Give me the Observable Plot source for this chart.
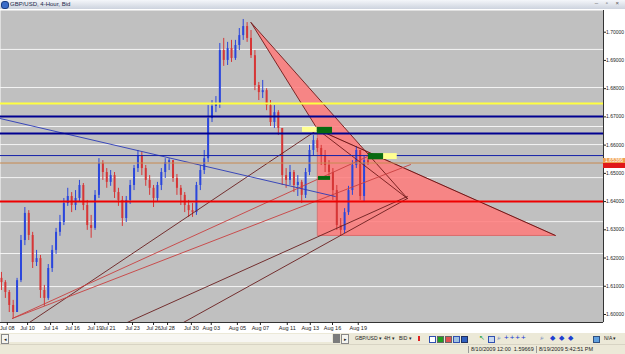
<!DOCTYPE html>
<html><head><meta charset="utf-8">
<script src="https://cdn.jsdelivr.net/npm/d3@7"></script>
<script src="https://cdn.jsdelivr.net/npm/@observablehq/plot@0.6"></script>
<style>
body{margin:0;width:625px;height:354px;overflow:hidden;background:#fff;font-family:"Liberation Sans",Arial,sans-serif;position:relative}
#title{height:9px;border-bottom:1px solid #fff;background:linear-gradient(#f4f6fa,#cdd3de);font-size:6px;line-height:9px;position:relative;color:#1a2a4a}
#title .ico{position:absolute;left:1px;top:1px;width:6px;height:6px;border-radius:3px;background:#3a6cc8;border:0.5px solid #1b3d80}
#title .t{position:absolute;left:10px;top:0}
#title .wb{position:absolute;right:3px;top:-1px;color:#555;font-size:6px;letter-spacing:3px}
#chart{height:323px}
#toolbar{position:absolute;left:0;top:333px;width:625px;height:11px;background:#ece9d8;font-size:5px;color:#222}
#status{position:absolute;left:0;top:344px;width:625px;height:10px;background:#ece9d8;font-size:5.5px;color:#222;border-top:1px solid #d8d4c4}
.a{position:absolute;white-space:nowrap}
.btn{border:0.5px solid #888;background:#f4f4f0;width:6px;height:8px;top:1px;font-size:5px;line-height:8px;text-align:center}
.ic{top:3px;width:5px;height:5px}
.fld{top:1px;height:7px;line-height:7px;border-left:0.5px solid #999;padding-left:2px}
.tag{position:absolute;left:603px;width:22px;font-size:5px;line-height:5px;color:#fff;text-align:center}
</style></head><body>
<div id="title"><span class="ico"></span><span class="t">GBP/USD, 4-Hour, Bid</span><span class="wb">– ▫ ×</span></div>
<div id="chart"></div>
<div id="toolbar">
 <span class="a btn" style="left:1px">◂</span>
 <span class="a" style="left:9px;top:1px;width:323px;height:8px;background:#f7f6f2"></span>
 <span class="a" style="left:333px;top:1px;width:7px;height:9px;background:#7c7c7c"></span>
 <span class="a btn" style="left:341px">▸</span>
 <span class="a" style="left:355px;top:2px">GBP/USD ▾</span>
 <span class="a" style="left:384px;top:2px">4H ▾</span>
 <span class="a" style="left:399px;top:2px">BID ▾</span>
 <span class="a ic" style="left:418px;width:2px;background:#e02020"></span>
 <span class="a ic" style="left:429px;background:#fff;border:0.5px solid #3050b0"></span>
 <span class="a ic" style="left:437px;background:#20a020;border:0.5px solid #666"></span>
 <span class="a ic" style="left:445px;background:#e05050;border:0.5px solid #666"></span>
 <span class="a ic" style="left:453px;background:#9fc0e0;border:0.5px solid #3050b0"></span>
 <span class="a ic" style="left:461px;background:#3060c0;border:0.5px solid #203060"></span>
 <span class="a" style="left:479px;top:1px;color:#20a040;font-size:7px">↖</span>
 <span class="a ic" style="left:488px;background:#c8d8f0;border:0.5px solid #3050b0"></span>
 <span class="a" style="left:497px;top:1px;color:#3050b0;font-size:7px">⌕</span>
 <span class="a" style="left:504px;top:0px;color:#2040d0;font-size:8px;letter-spacing:1px">++++</span>
 <span class="a" style="left:540px;top:1px;color:#3050b0;font-size:7px">⌕</span>
 <span class="a" style="left:550px;top:1px;color:#2040d0;font-size:7px;letter-spacing:4px">◆◆◆</span>
 <span class="a ic" style="left:593px;background:#60a0e0;border:0.5px solid #305080"></span>
 <span class="a" style="left:604px;top:2px">N/A ▾</span>
</div>
<div id="status">
 <span class="a fld" style="left:468px">8/10/2009 12:00&nbsp;&nbsp;1.59669</span>
 <span class="a fld" style="left:536px">8/19/2009 5:42:51 PM</span>
</div>
<script>
// ---- data (GBP/USD 4-hour bars) ----
const firstOpen = 1.6128;
const closes = [1.6113,1.6078,1.6032,1.6007,1.6120,1.6262,1.6358,1.6280,1.6184,1.6198,
1.6085,1.6057,1.6163,1.6227,1.6291,1.6326,1.6393,1.6418,1.6386,1.6411,
1.6457,1.6386,1.6315,1.6305,1.6422,1.6535,1.6503,1.6468,1.6492,1.6432,
1.6404,1.6340,1.6404,1.6457,1.6517,1.6563,1.6517,1.6475,1.6447,1.6411,
1.6457,1.6503,1.6538,1.6545,1.6482,1.6447,1.6422,1.6386,1.6368,1.6361,
1.6457,1.6510,1.6552,1.6694,1.6737,1.6744,1.6935,1.6900,1.6942,1.6907,
1.6953,1.6988,1.7020,1.6978,1.6917,1.6811,1.6786,1.6793,1.6740,1.6680,
1.6715,1.6659,1.6492,1.6475,1.6503,1.6457,1.6468,1.6422,1.6503,1.6581,
1.6616,1.6588,1.6563,1.6528,1.6503,1.6439,1.6315,1.6298,1.6361,1.6439,
1.6528,1.6581,1.6418,1.6545,1.65366];
const highs = [1.6149,1.6120,1.6085,1.6050,1.6128,1.6280,1.6379,1.6368,1.6291,1.6227,
1.6209,1.6103,1.6177,1.6244,1.6305,1.6351,1.6411,1.6447,1.6432,1.6439,
1.6475,1.6464,1.6404,1.6351,1.6439,1.6552,1.6545,1.6517,1.6510,1.6503,
1.6447,1.6418,1.6418,1.6475,1.6528,1.6581,1.6574,1.6528,1.6492,1.6457,
1.6468,1.6517,1.6552,1.6552,1.6545,1.6496,1.6457,1.6432,1.6404,1.6393,
1.6468,1.6528,1.6581,1.6740,1.6758,1.6772,1.6960,1.6978,1.6964,1.6971,
1.6971,1.7013,1.7045,1.7034,1.7006,1.6935,1.6822,1.6829,1.6800,1.6758,
1.6740,1.6722,1.6659,1.6517,1.6528,1.6510,1.6492,1.6475,1.6517,1.6599,
1.6634,1.6623,1.6599,1.6581,1.6545,1.6517,1.6457,1.6340,1.6375,1.6454,
1.6545,1.6595,1.6581,1.6560,1.6552];
const lows = [1.6085,1.6057,1.6007,1.5986,1.6007,1.6113,1.6244,1.6262,1.6163,1.6170,
1.6057,1.6029,1.6050,1.6149,1.6213,1.6277,1.6315,1.6383,1.6361,1.6368,
1.6397,1.6368,1.6298,1.6270,1.6298,1.6411,1.6475,1.6447,1.6454,1.6411,
1.6383,1.6312,1.6326,1.6390,1.6439,1.6503,1.6492,1.6454,1.6422,1.6379,
1.6397,1.6439,1.6482,1.6510,1.6468,1.6422,1.6386,1.6361,1.6344,1.6344,
1.6351,1.6439,1.6496,1.6538,1.6680,1.6715,1.6730,1.6879,1.6882,1.6893,
1.6900,1.6935,1.6971,1.6964,1.6907,1.6793,1.6758,1.6765,1.6722,1.6666,
1.6659,1.6634,1.6457,1.6447,1.6457,1.6432,1.6418,1.6393,1.6411,1.6492,
1.6563,1.6574,1.6528,1.6503,1.6482,1.6404,1.6298,1.6277,1.6287,1.6351,
1.6422,1.6517,1.6404,1.6397,1.6528];
const lastPrice = 1.65366;

// x-axis labels and the bar position where each sits
const tickLabels = ["Jul 08","Jul 10","Jul 14","Jul 16","Jul 19","Jul 21","Jul 23","Jul 26","Jul 28","Jul 30","Aug 03","Aug 05","Aug 07","Aug 11","Aug 13","Aug 16","Aug 19"];
const tickPos = [1.5,6.7,12.6,18.2,23.9,27.4,33.6,39.0,42.6,48.7,53.8,60.5,66.4,73.3,79.2,84.9,91.5];
const priceTicks = [1.60,1.61,1.62,1.63,1.64,1.65,1.66,1.67,1.68,1.69,1.70];

// horizontal drawn levels
const whiteLevels = [1.6939,1.6804,1.6666,1.6602,1.6485,1.6329,1.6216,1.6099];
const yellowLevel = 1.6747;
const blueThickLevels = [1.6701,1.6641];
const blueThinLevel = 1.6563;
const redLevel = 1.6400;

// drawn objects: [bar, price] anchors
const peakTriangle = [[64,1.7034],[81.1,1.6655],[104.1,1.6411]];
const rightTriangle = [[81.1,1.6655],[142.05,1.6280],[81.1,1.6280]];
const darkFanLines = [[[7.2,1.5972],[81.1,1.6655]], [[32.3,1.5972],[104.1,1.6418]], [[46.7,1.5972],[104.1,1.6411]]];
const redFanLines = [[[2.8,1.5986],[93.8,1.6559]], [[2.8,1.5986],[104.9,1.6531]]];
const blueTrend = [[-0.3,1.6694],[85.6,1.6418]];
const yellowBoxes = [[77.2,81.0,1.6645,1.6663],[96.4,101.5,1.6549,1.6570]];
const greenBoxes = [[81.0,84.9,1.6640,1.6663],[94.1,98.0,1.6548,1.6570],[81.3,84.4,1.6475,1.6489]];

// ---- build ----
const bars = closes.map((c, i) => {
  const o = i === 0 ? firstOpen : closes[i - 1];
  return {i, o, c, h: Math.max(highs[i], o, c), l: Math.min(lows[i], o, c), up: c >= o};
});
const xDomain = [-0.25, 154.4];
const yDomain = [1.597166, 1.707687];

function intersect(a0, a1, b0, b1) {
  const d = (a1[0]-a0[0])*(b1[1]-b0[1]) - (a1[1]-a0[1])*(b1[0]-b0[0]);
  const t = ((b0[0]-a0[0])*(b1[1]-b0[1]) - (b0[1]-a0[1])*(b1[0]-b0[0])) / d;
  return [a0[0] + t*(a1[0]-a0[0]), a0[1] + t*(a1[1]-a0[1])];
}
const cross = intersect(peakTriangle[0], peakTriangle[2], rightTriangle[0], rightTriangle[1]);
const pinkShape = [peakTriangle[0], peakTriangle[1], rightTriangle[2], rightTriangle[1], cross];

const seg = (pairs) => pairs.flatMap((p, k) => p.map(q => ({x: q[0], y: q[1], k})));
const boxes = (arr) => arr.map(b => ({x1: b[0], x2: b[1], y1: b[2], y2: b[3]}));
const BLUE = "#2a46dc", RED = "#d63636";

const chart = Plot.plot({
  width: 625, height: 323,
  marginTop: 0, marginRight: 22, marginBottom: 11, marginLeft: 0,
  x: {domain: xDomain},
  y: {domain: yDomain},
  style: {background: "#fff", fontFamily: "Liberation Sans, Arial, sans-serif", fontSize: "5px", color: "#222"},
  marks: [
    Plot.frame({fill: "#c0c0c0", stroke: "none"}),
    Plot.ruleY(whiteLevels, {stroke: "#f4f4f4", strokeWidth: 1}),
    Plot.line(pinkShape, {x: d => d[0], y: d => d[1], curve: "linear-closed", fill: "#ff7a7a", fillOpacity: 0.85, stroke: "none"}),
    Plot.line(rightTriangle, {x: d => d[0], y: d => d[1], curve: "linear-closed", stroke: "#d86060", strokeWidth: 0.8}),
    Plot.ruleX(bars, {x: "i", y1: "l", y2: "h", stroke: d => d.up ? BLUE : RED, strokeWidth: 1}),
    Plot.ruleX(bars, {x: "i", y1: "o", y2: "c", stroke: d => d.up ? BLUE : RED, strokeWidth: 2}),
    Plot.line(peakTriangle, {x: d => d[0], y: d => d[1], curve: "linear-closed", stroke: "#701818", strokeWidth: 0.9}),
    Plot.line(rightTriangle.slice(0, 2), {x: d => d[0], y: d => d[1], stroke: "#601010", strokeWidth: 0.9}),
    Plot.line(seg(darkFanLines), {x: "x", y: "y", z: "k", stroke: "#6a1e1e", strokeWidth: 0.9, clip: true}),
    Plot.line(seg(redFanLines), {x: "x", y: "y", z: "k", stroke: "#c84040", strokeWidth: 0.9, clip: true}),
    Plot.line(blueTrend, {x: d => d[0], y: d => d[1], stroke: "#2a3ab8", strokeWidth: 0.9, clip: true}),
    Plot.ruleY([yellowLevel], {stroke: "#ffff40", strokeWidth: 2}),
    Plot.ruleY(blueThickLevels, {stroke: "#000090", strokeWidth: 2}),
    Plot.ruleY([blueThinLevel], {stroke: "#1420a8", strokeWidth: 1}),
    Plot.ruleY([lastPrice], {stroke: "#c88a50", strokeWidth: 1}),
    Plot.ruleY([redLevel], {stroke: "#ee0000", strokeWidth: 2}),
    Plot.rect(boxes(yellowBoxes), {x1: "x1", x2: "x2", y1: "y1", y2: "y2", fill: "#ffff90"}),
    Plot.rect(boxes(greenBoxes), {x1: "x1", x2: "x2", y1: "y1", y2: "y2", fill: "#086a10"}),
    Plot.ruleY([yDomain[0]], {stroke: "#333", strokeWidth: 1}),
    Plot.ruleX([xDomain[1]], {stroke: "#333", strokeWidth: 1}),
    Plot.axisY(priceTicks, {anchor: "right", tickFormat: d3.format(".5f"), tickSize: 2, tickPadding: 0.5, fontSize: 5, label: null}),
    Plot.axisX(tickPos, {anchor: "bottom", tickFormat: d => tickLabels[tickPos.indexOf(d)], tickSize: 3, tickPadding: 1, fontSize: 5.5, label: null})
  ]
});
document.getElementById("chart").appendChild(chart);

const yPix = 10 + chart.scale("y").apply(lastPrice);
const t1 = document.createElement("div");
t1.className = "tag"; t1.style.top = (yPix - 5) + "px"; t1.style.height = "5px";
t1.style.background = "#f0a050"; t1.textContent = d3.format(".5f")(lastPrice);
const t2 = document.createElement("div");
t2.className = "tag"; t2.style.top = yPix + "px"; t2.style.height = "5px"; t2.style.background = "#e01818";
document.body.appendChild(t1); document.body.appendChild(t2);
</script>
</body></html>
